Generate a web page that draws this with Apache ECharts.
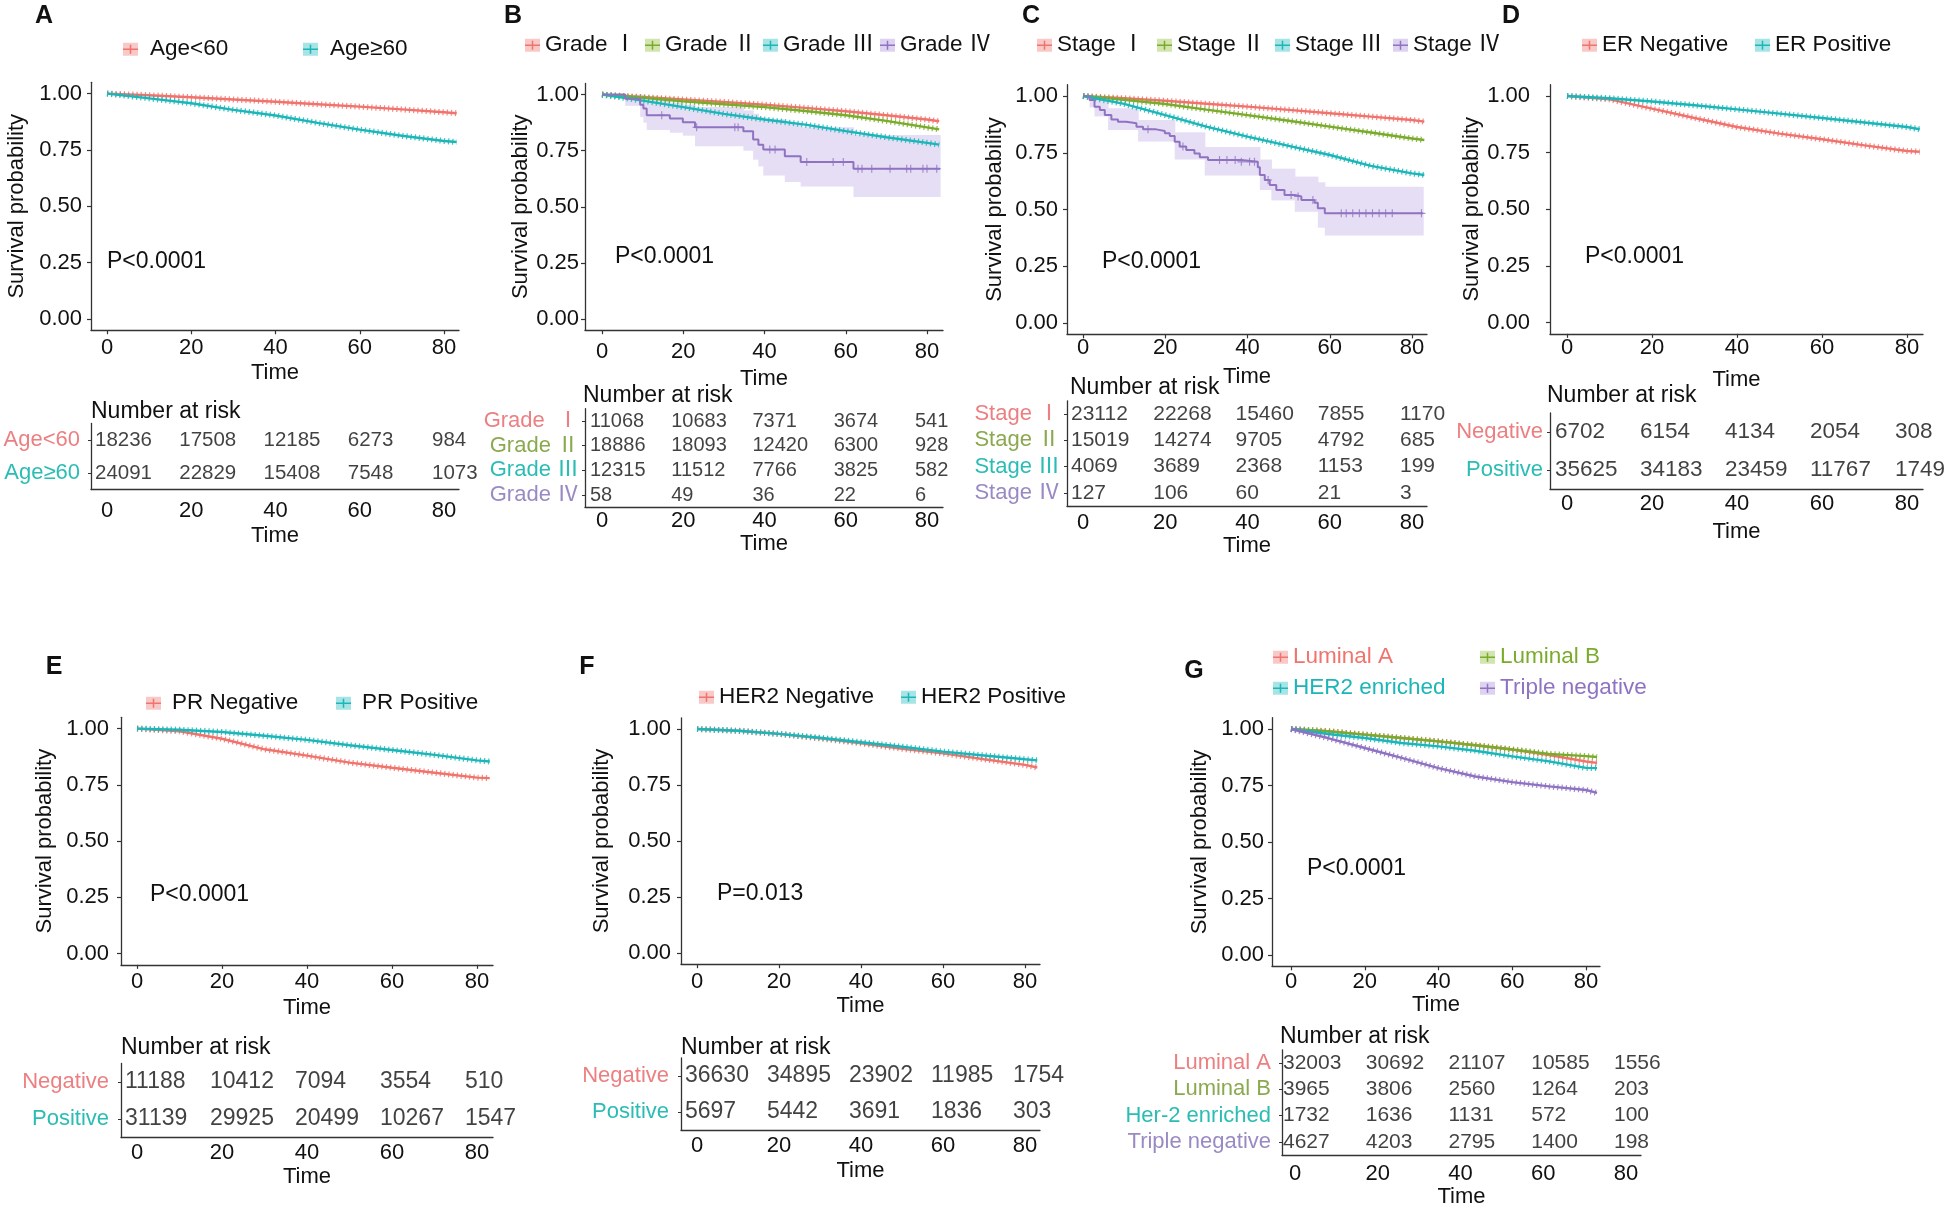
<!DOCTYPE html>
<html><head><meta charset="utf-8">
<script src="https://cdn.jsdelivr.net/npm/echarts@6/dist/echarts.min.js"></script>
<style>html,body{margin:0;padding:0;background:#fff}#c{width:1949px;height:1211px}</style>
</head><body><div id="c"></div>
<script>
// ---------------- data ----------------
const curveTimes = [0, 10, 20, 30, 40, 50, 60, 70, 80, 83];
const riskTimes = [0, 20, 40, 60, 80];
const xTicks = [0, 20, 40, 60, 80];
const yTicks = [0, 0.25, 0.5, 0.75, 1];

// A
const ageLt60Surv = [1, 0.993, 0.984, 0.974, 0.964, 0.953, 0.942, 0.930, 0.917, 0.913];
const ageGe60Surv = [1, 0.979, 0.957, 0.928, 0.903, 0.870, 0.840, 0.813, 0.790, 0.785];
const ageLt60Risk = [18236, 17508, 12185, 6273, 984];
const ageGe60Risk = [24091, 22829, 15408, 7548, 1073];
// B
const gradeISurv = [1, 0.989, 0.978, 0.967, 0.955, 0.941, 0.926, 0.908, 0.889, 0.881];
const gradeIISurv = [1, 0.986, 0.970, 0.957, 0.944, 0.927, 0.908, 0.883, 0.854, 0.845];
const gradeIIISurv = [1, 0.973, 0.944, 0.914, 0.889, 0.866, 0.837, 0.810, 0.785, 0.777];
const gradeIVStepT = [0, 5.7, 9.4, 10.2, 11, 16.7, 19.9, 22.9, 34.8, 37.2, 38.5, 39.7, 45, 48.9, 61.9, 83.2];
const gradeIVStepS = [1, 0.982, 0.955, 0.938, 0.908, 0.893, 0.877, 0.854, 0.837, 0.80, 0.777, 0.755, 0.725, 0.70, 0.67, 0.67];
const gradeIVCiLo = [1, 0.95, 0.90, 0.875, 0.842, 0.83, 0.817, 0.77, 0.75, 0.71, 0.68, 0.64, 0.61, 0.59, 0.544, 0.544];
const gradeIVCiHi = [1, 1, 1, 0.995, 0.975, 0.965, 0.955, 0.945, 0.93, 0.915, 0.90, 0.89, 0.87, 0.855, 0.82, 0.82];
const gradeIVCensor = [14.7, 23.3, 32.7, 33.5, 41.3, 42.6, 50.4, 56.9, 59.4, 63, 64, 66.4, 70.9, 75, 76, 79, 80, 82.4];
const gradeIRisk = [11068, 10683, 7371, 3674, 541];
const gradeIIRisk = [18886, 18093, 12420, 6300, 928];
const gradeIIIRisk = [12315, 11512, 7766, 3825, 582];
const gradeIVRisk = [58, 49, 36, 22, 6];
// C
const stageISurv = [1, 0.990, 0.979, 0.966, 0.953, 0.939, 0.924, 0.909, 0.894, 0.887];
const stageIISurv = [1, 0.983, 0.965, 0.940, 0.916, 0.891, 0.865, 0.839, 0.813, 0.806];
const stageIIISurv = [1, 0.965, 0.916, 0.865, 0.821, 0.780, 0.740, 0.692, 0.659, 0.652];
const stageIVStepT = [0, 1.6, 2.8, 4.1, 5.3, 6.9, 8.5, 10.5, 13, 14.6, 17.8, 19.9, 21.1, 22.3, 23.5, 25.1, 27.1, 28.4, 30.4, 38.5, 42.5, 43, 44.2, 45.4, 47, 49, 51.5, 53.1, 56.3, 57.1, 58.8, 82.7];
const stageIVStepS = [1, 0.982, 0.953, 0.938, 0.916, 0.897, 0.887, 0.880, 0.865, 0.853, 0.846, 0.836, 0.824, 0.799, 0.777, 0.762, 0.747, 0.730, 0.718, 0.710, 0.686, 0.652, 0.630, 0.608, 0.586, 0.564, 0.557, 0.542, 0.530, 0.505, 0.483, 0.483];
const stageIVCiT = [0, 1.6, 2.8, 6.1, 13.4, 22.3, 29.6, 43, 45.8, 51.5, 57.1, 58.8, 82.7];
const stageIVCiLo = [1, 0.95, 0.91, 0.85, 0.80, 0.72, 0.65, 0.586, 0.54, 0.49, 0.42, 0.385, 0.385];
const stageIVCiHi = [1, 1, 1, 0.946, 0.894, 0.84, 0.775, 0.72, 0.68, 0.645, 0.62, 0.60, 0.60];
const stageIVCensor = [15.8, 24.3, 33.2, 35, 37, 38.5, 40.5, 41.7, 45, 50.6, 52.3, 55.9, 62.8, 64, 65.6, 67.2, 68.8, 70.4, 72, 73.6, 75.2, 82.3];
const stageIRisk = [23112, 22268, 15460, 7855, 1170];
const stageIIRisk = [15019, 14274, 9705, 4792, 685];
const stageIIIRisk = [4069, 3689, 2368, 1153, 199];
const stageIVRisk = [127, 106, 60, 21, 3];
// D
const erNegSurv = [1, 0.985, 0.944, 0.903, 0.863, 0.834, 0.809, 0.782, 0.757, 0.754];
const erPosSurv = [1, 0.990, 0.976, 0.959, 0.941, 0.922, 0.903, 0.883, 0.863, 0.853];
const erNegRisk = [6702, 6154, 4134, 2054, 308];
const erPosRisk = [35625, 34183, 23459, 11767, 1749];
// E
const prNegSurv = [1, 0.988, 0.955, 0.908, 0.880, 0.849, 0.826, 0.804, 0.782, 0.780];
const prPosSurv = [1, 0.995, 0.985, 0.968, 0.950, 0.926, 0.905, 0.883, 0.859, 0.854];
const prNegRisk = [11188, 10412, 7094, 3554, 510];
const prPosRisk = [31139, 29925, 20499, 10267, 1547];
// F
const her2NegSurv = [1, 0.992, 0.978, 0.958, 0.936, 0.912, 0.891, 0.865, 0.840, 0.828];
const her2PosSurv = [1, 0.992, 0.978, 0.961, 0.941, 0.921, 0.899, 0.882, 0.865, 0.860];
const her2NegRisk = [36630, 34895, 23902, 11985, 1754];
const her2PosRisk = [5697, 5442, 3691, 1836, 303];
// G
const lumASurv = [1, 0.990, 0.975, 0.960, 0.945, 0.928, 0.909, 0.885, 0.856, 0.850];
const lumBSurv = [1, 0.990, 0.975, 0.960, 0.945, 0.928, 0.909, 0.890, 0.880, 0.876];
const her2eSurv = [1, 0.978, 0.960, 0.938, 0.923, 0.904, 0.879, 0.857, 0.828, 0.827];
const tnSurv = [1, 0.960, 0.916, 0.872, 0.827, 0.790, 0.765, 0.746, 0.730, 0.717];
const lumARisk = [32003, 30692, 21107, 10585, 1556];
const lumBRisk = [3965, 3806, 2560, 1264, 203];
const her2eRisk = [1732, 1636, 1131, 572, 100];
const tnRisk = [4627, 4203, 2795, 1400, 198];

// ---------------- styles ----------------
const FONT = 'Arial, "Liberation Sans", "Noto Sans CJK SC", sans-serif';
const C = {
  red:    {line: '#F0746D', light: '#F8C9C6', label: '#EC7F81'},
  green:  {line: '#7AAB2C', light: '#D3E5AE', label: '#8BA94F'},
  teal:   {line: '#1CB6B9', light: '#A6E4E5', label: '#2BBDB4'},
  purple: {line: '#8F73C2', light: '#DDD3F0', label: '#9A8AC3'}
};
const CI_FILL = '#E6DEF4';
const PLUS_ICON = 'path://M0,6L20,6L20,8L0,8Z M9,1L11,1L11,13L9,13Z';
const PLUS_MARK = 'path://M0,4.3L10,4.3L10,5.7L0,5.7Z M4.3,0L5.7,0L5.7,10L4.3,10Z';

// ---------------- panels ----------------
const panels = [
  {letter: 'A', letterPos: [44, 16], pval: 'P<0.0001', pPos: [107, 262],
   groups: [
     {name: 'Age<60', surv: ageLt60Surv, risk: ageLt60Risk, label: 'Age<60', col: C.red},
     {name: 'Age≥60', surv: ageGe60Surv, risk: ageGe60Risk, label: 'Age≥60', col: C.teal}],
   legend: {y: 50, lefts: [123, 303], gap: 12},
   plot: {axisX: 91, x0: 107, x80: 444, right: 459, y1: 93.6, y0: 319, tickY: 348, timeY: 373, ylabX: 17, yMargin: 9},
   risk: {axisX: 91, x0: 107, x80: 444, right: 459, rowFirst: 440, rowLast: 473, tickY: 511, timeY: 536, labMargin: 11, nar: [91, 412], font: 20.5}},
  {letter: 'B', letterPos: [513, 16], pval: 'P<0.0001', pPos: [615, 257],
   groups: [
     {name: 'Grade Ⅰ', surv: gradeISurv, risk: gradeIRisk, label: 'Grade  Ⅰ', col: C.red},
     {name: 'Grade Ⅱ', surv: gradeIISurv, risk: gradeIIRisk, label: 'Grade Ⅱ', col: C.green},
     {name: 'Grade Ⅲ', surv: gradeIIISurv, risk: gradeIIIRisk, label: 'Grade Ⅲ', col: C.teal},
     {name: 'Grade Ⅳ', stepT: gradeIVStepT, stepS: gradeIVStepS, ciT: gradeIVStepT, ciLo: gradeIVCiLo, ciHi: gradeIVCiHi, censor: gradeIVCensor, risk: gradeIVRisk, label: 'Grade Ⅳ', col: C.purple}],
   legend: {y: 46, lefts: [525, 645, 763, 880], gap: 5},
   plot: {axisX: 585, x0: 602, x80: 927, right: 943, y1: 94.6, y0: 319, tickY: 352, timeY: 379, ylabX: 523, yMargin: 6},
   risk: {axisX: 585, x0: 602, x80: 927, right: 943, rowFirst: 421, rowLast: 495, tickY: 521, timeY: 541, labMargin: 6, nar: [583, 396], font: 20}},
  {letter: 'C', letterPos: [1031, 16], pval: 'P<0.0001', pPos: [1102, 262],
   groups: [
     {name: 'Stage Ⅰ', surv: stageISurv, risk: stageIRisk, label: 'Stage Ⅰ', col: C.red},
     {name: 'Stage Ⅱ', surv: stageIISurv, risk: stageIIRisk, label: 'Stage Ⅱ', col: C.green},
     {name: 'Stage Ⅲ', surv: stageIIISurv, risk: stageIIIRisk, label: 'Stage Ⅲ', col: C.teal},
     {name: 'Stage Ⅳ', stepT: stageIVStepT, stepS: stageIVStepS, ciT: stageIVCiT, ciLo: stageIVCiLo, ciHi: stageIVCiHi, censor: stageIVCensor, risk: stageIVRisk, label: 'Stage Ⅳ', col: C.purple}],
   legend: {y: 46, lefts: [1037, 1157, 1275, 1393], gap: 5},
   plot: {axisX: 1067, x0: 1083, x80: 1412, right: 1427, y1: 96, y0: 323, tickY: 348, timeY: 377, ylabX: 995, yMargin: 9},
   risk: {axisX: 1067, x0: 1083, x80: 1412, right: 1427, rowFirst: 414, rowLast: 493, tickY: 523, timeY: 545, labMargin: 7, nar: [1070, 388], font: 21}},
  {letter: 'D', letterPos: [1511, 16], pval: 'P<0.0001', pPos: [1585, 257],
   groups: [
     {name: 'ER Negative', surv: erNegSurv, risk: erNegRisk, label: 'Negative', col: C.red},
     {name: 'ER Positive', surv: erPosSurv, risk: erPosRisk, label: 'Positive', col: C.teal}],
   legend: {y: 46, lefts: [1582, 1755], gap: 5},
   plot: {axisX: 1550, x0: 1567, x80: 1907, right: 1923, y1: 96, y0: 322.5, tickY: 348, timeY: 380, ylabX: 1477, yMargin: 20},
   risk: {axisX: 1550, x0: 1567, x80: 1907, right: 1923, rowFirst: 432, rowLast: 470, tickY: 504, timeY: 532, labMargin: 7, nar: [1547, 396], font: 22.5}},
  {letter: 'E', letterPos: [54, 667], pval: 'P<0.0001', pPos: [150, 895],
   groups: [
     {name: 'PR Negative', surv: prNegSurv, risk: prNegRisk, label: 'Negative', col: C.red},
     {name: 'PR Positive', surv: prPosSurv, risk: prPosRisk, label: 'Positive', col: C.teal}],
   legend: {y: 704, lefts: [146, 336], gap: 11},
   plot: {axisX: 121, x0: 137, x80: 477, right: 493, y1: 728.6, y0: 953.6, tickY: 982, timeY: 1008, ylabX: 45, yMargin: 12},
   risk: {axisX: 121, x0: 137, x80: 477, right: 493, rowFirst: 1082, rowLast: 1119, tickY: 1153, timeY: 1177, labMargin: 12, nar: [121, 1048], font: 23}},
  {letter: 'F', letterPos: [587, 667], pval: 'P=0.013', pPos: [717, 894],
   groups: [
     {name: 'HER2 Negative', surv: her2NegSurv, risk: her2NegRisk, label: 'Negative', col: C.red},
     {name: 'HER2 Positive', surv: her2PosSurv, risk: her2PosRisk, label: 'Positive', col: C.teal}],
   legend: {y: 698, lefts: [699, 901], gap: 5},
   plot: {axisX: 681, x0: 697, x80: 1025, right: 1040, y1: 729, y0: 953, tickY: 982, timeY: 1006, ylabX: 602, yMargin: 10},
   risk: {axisX: 681, x0: 697, x80: 1025, right: 1040, rowFirst: 1076, rowLast: 1112, tickY: 1146, timeY: 1171, labMargin: 12, nar: [681, 1048], font: 23}},
  {letter: 'G', letterPos: [1194, 671], pval: 'P<0.0001', pPos: [1307, 869],
   groups: [
     {name: 'Luminal A', surv: lumASurv, risk: lumARisk, label: 'Luminal A', col: C.red},
     {name: 'Luminal B', surv: lumBSurv, risk: lumBRisk, label: 'Luminal B', col: C.green},
     {name: 'HER2 enriched', surv: her2eSurv, risk: her2eRisk, label: 'Her-2 enriched', col: C.teal},
     {name: 'Triple negative', surv: tnSurv, risk: tnRisk, label: 'Triple negative', col: C.purple}],
   legend: {ys: [658, 658, 689, 689], lefts: [1273, 1480, 1273, 1480], gap: 5, colored: true},
   plot: {axisX: 1272, x0: 1291, x80: 1586, right: 1600, y1: 729, y0: 955, tickY: 982, timeY: 1003, ylabX: 1200, yMargin: 8},
   risk: {axisX: 1282, x0: 1295, x80: 1626, right: 1641, rowFirst: 1063, rowLast: 1142, tickY: 1174, timeY: 1195, labMargin: 11, nar: [1280, 1037], font: 21}}
];

// ---------------- build ----------------
const grids = [], xAxes = [], yAxes = [], series = [], legends = [], graphics = [];
const AX = '#333';
const FS = 22;

function stepAt(ts, ss, t) {
  let v = ss[0];
  for (let i = 0; i < ts.length; i++) { if (ts[i] <= t) v = ss[i]; }
  return v;
}
function xRange(L) {
  const kx = (L.x80 - L.x0) / 80;
  return [(L.axisX - L.x0) / kx, (L.right - L.x0) / kx];
}
function xAxisCfg(gi, L, axisBottom) {
  const [mn, mx] = xRange(L);
  return {
    gridIndex: gi, type: 'value', position: 'bottom', min: mn, max: mx,
    axisLine: {show: true, onZero: false, lineStyle: {color: AX, width: 1.3}},
    axisTick: {customValues: xTicks, length: 4, lineStyle: {color: AX, width: 1.2}},
    axisLabel: {customValues: xTicks, fontSize: FS, color: '#111', fontFamily: FONT, margin: L.tickY - FS / 2 - axisBottom},
    splitLine: {show: false},
    name: 'Time', nameLocation: 'middle', nameGap: L.timeY - FS / 2 - axisBottom,
    nameTextStyle: {fontSize: FS, color: '#111', fontFamily: FONT}
  };
}

panels.forEach(P => {
  const L = P.plot;
  const ky = L.y0 - L.y1;
  const top = L.y1 - 0.05 * ky, height = 1.1 * ky;
  const gi = grids.length;
  grids.push({left: L.axisX, top: top, width: L.right - L.axisX, height: height});
  xAxes.push(xAxisCfg(gi, L, top + height));
  yAxes.push({
    gridIndex: gi, type: 'value', position: 'left', min: -0.05, max: 1.05,
    axisLine: {show: true, onZero: false, lineStyle: {color: AX, width: 1.3}},
    axisTick: {show: true, customValues: yTicks, length: 4, lineStyle: {color: AX, width: 1.2}},
    axisLabel: {customValues: yTicks, fontSize: FS, color: '#111', fontFamily: FONT, margin: L.yMargin, formatter: v => v.toFixed(2)},
    splitLine: {show: false},
    name: 'Survival probability', nameLocation: 'middle', nameRotate: 90,
    nameGap: L.axisX - L.ylabX - FS / 2,
    nameTextStyle: {fontSize: FS, color: '#111', fontFamily: FONT}
  });
  // confidence bands for small groups
  P.groups.forEach(g => {
    if (g.stepT) {
      series.push({
        type: 'custom', name: g.name + ' CI', xAxisIndex: gi, yAxisIndex: gi, z: 1, silent: true,
        data: g.ciT.slice(0, -1).map((t, i) => [t, g.ciT[i + 1], g.ciLo[i], g.ciHi[i]]),
        encode: {x: [0, 1], y: [2, 3]},
        renderItem: (params, api) => {
          const a = api.coord([api.value(0), api.value(3)]);
          const b = api.coord([api.value(1), api.value(2)]);
          return {type: 'rect', shape: {x: a[0], y: a[1], width: b[0] - a[0] + 0.6, height: b[1] - a[1]}, style: {fill: CI_FILL}};
        }
      });
    }
  });
  // curves
  P.groups.forEach(g => {
    if (g.stepT) {
      series.push({
        type: 'line', name: g.name, xAxisIndex: gi, yAxisIndex: gi, step: 'end', z: 3,
        data: g.stepT.map((t, i) => [t, g.stepS[i]]), symbol: 'none', silent: true,
        lineStyle: {color: g.col.line, width: 2}, itemStyle: {color: g.col.line}
      });
      series.push({
        type: 'scatter', name: g.name + ' censor', xAxisIndex: gi, yAxisIndex: gi, z: 4, silent: true,
        data: g.censor.map(t => [t, stepAt(g.stepT, g.stepS, t)]),
        symbol: PLUS_MARK, symbolSize: 8, itemStyle: {color: g.col.line}
      });
    } else {
      const d = curveTimes.map((t, i) => [t, g.surv[i]]);
      series.push({
        type: 'line', name: g.name, xAxisIndex: gi, yAxisIndex: gi, z: 3, data: d, symbol: 'none', silent: true,
        lineStyle: {color: g.col.line, width: 2.4}, itemStyle: {color: g.col.line}
      });
      series.push({
        type: 'line', name: g.name + ' censor', xAxisIndex: gi, yAxisIndex: gi, z: 3, data: d, symbol: 'none', silent: true,
        lineStyle: {color: g.col.line, width: 6, type: [1.2, 3], opacity: 0.85}
      });
    }
  });
  // legend (one component per key; a light key box underneath, the line+cross on top)
  P.groups.forEach((g, i) => {
    const y = P.legend.ys ? P.legend.ys[i] : P.legend.y;
    const base = {
      data: [g.name], left: P.legend.lefts[i], top: y - 12, orient: 'horizontal', padding: 0,
      itemWidth: 15, itemHeight: 13, selectedMode: false, itemGap: 0
    };
    const ts = {fontSize: 22.5, fontFamily: FONT, padding: [0, 0, 0, P.legend.gap - 5]};
    legends.push(Object.assign({}, base, {icon: 'rect', z: 2,
      itemStyle: {color: g.col.light, borderWidth: 0},
      textStyle: Object.assign({}, ts, {color: 'rgba(0,0,0,0)'})}));
    legends.push(Object.assign({}, base, {icon: PLUS_ICON, z: 3,
      itemStyle: {color: g.col.line, borderWidth: 0},
      textStyle: Object.assign({}, ts, {color: P.legend.colored ? g.col.line : '#111'})}));
  });
  // risk table
  const R = P.risk;
  const n = P.groups.length;
  const dRow = (R.rowLast - R.rowFirst) / (n - 1);
  const rTop = R.rowFirst - dRow / 2, rH = n * dRow;
  const ri = grids.length;
  grids.push({left: R.axisX, top: rTop, width: R.right - R.axisX, height: rH});
  xAxes.push(xAxisCfg(ri, R, rTop + rH));
  const rich = {};
  P.groups.forEach((g, i) => { rich['c' + i] = {color: g.col.label, fontSize: FS, fontFamily: FONT}; });
  yAxes.push({
    gridIndex: ri, type: 'category', position: 'left', inverse: true, data: P.groups.map(g => g.label),
    axisLine: {show: true, onZero: false, lineStyle: {color: AX, width: 1.3}},
    axisTick: {show: true, alignWithLabel: true, length: 3, lineStyle: {color: AX}},
    axisLabel: {margin: R.labMargin, formatter: (v, idx) => '{c' + idx + '|' + v + '}', rich: rich},
    splitLine: {show: false}
  });
  const rdata = [];
  P.groups.forEach((g, i) => riskTimes.forEach((t, j) => rdata.push([t, i, g.risk[j]])));
  series.push({
    type: 'scatter', name: P.letter + ' risk', xAxisIndex: ri, yAxisIndex: ri, silent: true,
    data: rdata, symbolSize: 1, itemStyle: {color: 'rgba(0,0,0,0)'},
    label: {show: true, formatter: p => String(p.value[2]), position: [-11.5, 0.5], align: 'left', verticalAlign: 'middle',
            fontSize: R.font, color: '#111', fontFamily: FONT}
  });
  // texts
  graphics.push({type: 'text', x: P.letterPos[0], y: P.letterPos[1], z: 10,
    style: {text: P.letter, font: 'bold 25px ' + FONT, fill: '#111', textAlign: 'center', textVerticalAlign: 'middle', align: 'center', verticalAlign: 'middle'}});
  graphics.push({type: 'text', x: P.pPos[0], y: P.pPos[1], z: 10,
    style: {text: P.pval, font: '23px ' + FONT, fill: '#111', textAlign: 'left', textVerticalAlign: 'middle', align: 'left', verticalAlign: 'middle'}});
  graphics.push({type: 'text', x: R.nar[0], y: R.nar[1], z: 10,
    style: {text: 'Number at risk', font: '23px ' + FONT, fill: '#111', textAlign: 'left', textVerticalAlign: 'middle', align: 'left', verticalAlign: 'middle'}});
});

const chart = echarts.init(document.getElementById('c'), null, {renderer: 'canvas'});
chart.setOption({
  animation: false,
  backgroundColor: '#fff',
  textStyle: {fontFamily: FONT},
  grid: grids, xAxis: xAxes, yAxis: yAxes, series: series, legend: legends, graphic: graphics
});
</script></body></html>
